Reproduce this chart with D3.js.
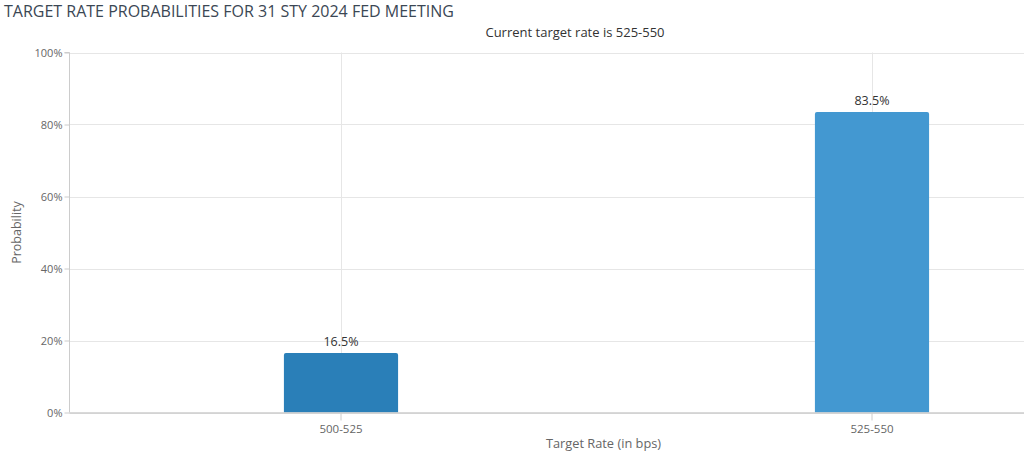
<!DOCTYPE html>
<html><head><meta charset="utf-8">
<script src="https://cdn.jsdelivr.net/npm/d3@7"></script>
<style>
body{margin:0;background:#fff;}
text{font-family:"Open Sans","Noto Sans",sans-serif;}
</style></head>
<body><svg id="c" width="1024" height="464"></svg>
<script>
const categories = ["500-525", "525-550"];
const probabilities = [16.5, 83.5];
const yTicks = [0, 20, 40, 60, 80, 100];
const barColors = ["#2a7fb8", "#4398d1"];
const titleText = "TARGET RATE PROBABILITIES FOR 31 STY 2024 FED MEETING";
const subtitleText = "Current target rate is 525-550";

(function () {
const svg = d3.select("#c");
const W = 1024, H = 464;
const pLeft = 69.5, pRight = 1137.5, pTop = 52.5, pBottom = 412.5;

const x = d3.scaleBand().domain(categories).range([pLeft + 6, pRight])
  .paddingInner(0.785).paddingOuter(0.3925);
const y = d3.scaleLinear().domain([0, 100]).range([pBottom, pTop]);

// horizontal gridlines
svg.append("g").selectAll("line").data(yTicks).join("line")
  .attr("x1", pLeft).attr("x2", W).attr("y1", d => Math.round(y(d)) + 0.5).attr("y2", d => Math.round(y(d)) + 0.5)
  .attr("stroke", "#e6e6e6").attr("stroke-width", 1);

// vertical gridlines at category centers
svg.append("g").selectAll("line").data(categories).join("line")
  .attr("x1", d => Math.round(x(d) + x.bandwidth() / 2) + 0.5)
  .attr("x2", d => Math.round(x(d) + x.bandwidth() / 2) + 0.5)
  .attr("y1", pTop).attr("y2", pBottom)
  .attr("stroke", "#e6e6e6");

// y axis
const yAxis = d3.axisLeft(y).tickValues(yTicks).tickFormat(d => d + "%").tickSize(5).tickPadding(2);
const gy = svg.append("g").attr("transform", `translate(${pLeft},0)`).call(yAxis);
gy.select(".domain").attr("d", `M-5,${pTop}H0V${pBottom}`).attr("stroke", "#ccc");
gy.selectAll(".tick line").attr("stroke", "#ccc");
gy.selectAll(".tick text").attr("fill", "#666").attr("font-size", 11);

// bars
svg.append("g").selectAll("path").data(probabilities).join("path")
  .attr("d", (d, i) => {
    const x0 = x(categories[i]), w = x.bandwidth(), y0 = y(d), r = 2;
    return `M${x0},${pBottom}V${y0 + r}Q${x0},${y0} ${x0 + r},${y0}H${x0 + w - r}Q${x0 + w},${y0} ${x0 + w},${y0 + r}V${pBottom}Z`;
  })
  .attr("fill", (d, i) => barColors[i]);

// bar labels
svg.append("g").selectAll("text").data(probabilities).join("text")
  .attr("x", (d, i) => x(categories[i]) + x.bandwidth() / 2)
  .attr("y", d => y(d) - 7)
  .attr("text-anchor", "middle").attr("font-size", 12.5).attr("fill", "#333")
  .text(d => d.toFixed(1) + "%");

// x axis
const xAxis = d3.axisBottom(x).tickSize(8).tickPadding(4);
const gx = svg.append("g").attr("transform", `translate(0,${pBottom})`).call(xAxis);
gx.select(".domain").attr("d", `M${pLeft},0.5H${W}`).attr("stroke", "#ccc").attr("stroke-width", 1.5);
gx.selectAll(".tick line").attr("stroke", "#ccc");
gx.selectAll(".tick text").attr("fill", "#666").attr("font-size", 11.5);

// titles
svg.append("text").attr("x", 4).attr("y", 17).attr("font-size", 16).attr("fill", "#3b4754")
  .text(titleText);
svg.append("text").attr("x", 575).attr("y", 37).attr("text-anchor", "middle").attr("font-size", 13).attr("fill", "#333")
  .text(subtitleText);
svg.append("text").attr("transform", `translate(21,${(pTop + pBottom) / 2}) rotate(-90)`)
  .attr("text-anchor", "middle").attr("font-size", 12.5).attr("fill", "#666").text("Probability");
svg.append("text").attr("x", (pLeft + pRight) / 2).attr("y", 448).attr("text-anchor", "middle")
  .attr("font-size", 12.8).attr("fill", "#666").text("Target Rate (in bps)");
})();
</script></body></html>
